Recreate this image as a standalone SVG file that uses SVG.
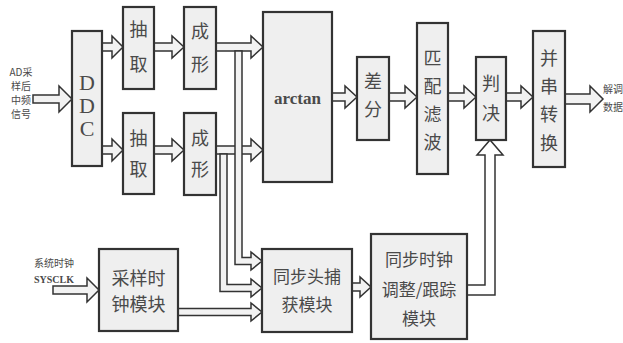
<svg xmlns="http://www.w3.org/2000/svg" width="623" height="343" viewBox="0 0 623 343">
<defs>
<style>
.box{fill:#efefef;stroke:#333;stroke-width:2.2}
.pipe{fill:#f2f2f2;stroke:#333;stroke-width:1.5;stroke-linejoin:miter}
.cn{font-family:"Noto Sans CJK SC","Noto Sans CJK JP",sans-serif;fill:#4a4a4a;text-anchor:middle;dominant-baseline:central}
.big{font-size:18px}
.mid{font-size:17px}
.sm{font-size:10px}
.lat{font-family:"Liberation Serif",serif;fill:#4a4a4a;text-anchor:middle;dominant-baseline:central}
</style>
</defs>
<rect width="623" height="343" fill="#fff"/>
<g id="connectors">
<polygon class="pipe" points="33,95 59,95 59,86 72,99 59,112 59,103 33,103"/>
<polygon class="pipe" points="102,43 112,43 112,36 123,47 112,58 112,51 102,51"/>
<polygon class="pipe" points="102,146 112,146 112,139 123,150 112,161 112,154 102,154"/>
<polygon class="pipe" points="154,43 172,43 172,36 184,47 172,58 172,51 154,51"/>
<polygon class="pipe" points="154,146 172,146 172,139 184,150 172,161 172,154 154,154"/>
<polygon class="pipe" points="216,43 251,43 251,36 263,47 251,58 251,51 216,51"/>
<polygon class="pipe" points="216,146 251,146 251,139 263,150 251,161 251,154 216,154"/>
<polygon class="pipe" points="235,51 242,51 242,257.5 251,257.5 251,252 262,261 251,270 251,264.5 235,264.5"/>
<polygon class="pipe" points="220,154 227,154 227,284.5 251,284.5 251,279 262,288 251,297 251,291.5 220,291.5"/>
<polygon class="pipe" points="178,308.5 251,308.5 251,303 262,312 251,321 251,315.5 178,315.5"/>
<polygon class="pipe" points="332,93 345,93 345,86 357,97 345,108 345,101 332,101"/>
<polygon class="pipe" points="389,93 405,93 405,86 417,97 405,108 405,101 389,101"/>
<polygon class="pipe" points="448,93 464,93 464,86 476,97 464,108 464,101 448,101"/>
<polygon class="pipe" points="506,93 521,93 521,86 533,97 521,108 521,101 506,101"/>
<polygon class="pipe" points="565,94 590,94 590,86 603,99 590,112 590,104 565,104"/>
<polygon class="pipe" points="53,286 87,286 87,278 99,290 87,302 87,294 53,294"/>
<polygon class="pipe" points="352,283 360,283 360,277 371,287 360,297 360,291 352,291"/>
<polygon class="pipe" points="467,285 485,285 485,155 477,155 490,140 503,155 495,155 495,295 467,295" style="fill:#fff"/>
</g>
<g id="n-ddc"><rect class="box" x="72" y="31" width="30" height="135"/>
<text class="lat" x="87" y="82" font-size="22">D</text><text class="lat" x="87" y="105" font-size="22">D</text><text class="lat" x="87" y="128" font-size="22">C</text></g>
<g id="n-chouqu1"><rect class="box" x="123" y="7" width="31" height="82"/>
<text class="cn big" x="138.5" y="28">抽</text><text class="cn big" x="138.5" y="63">取</text></g>
<g id="n-chengxing1"><rect class="box" x="184" y="7" width="32" height="82"/>
<text class="cn big" x="200" y="30">成</text><text class="cn big" x="200" y="63">形</text></g>
<g id="n-chouqu2"><rect class="box" x="123" y="113" width="31" height="81"/>
<text class="cn big" x="138.5" y="137">抽</text><text class="cn big" x="138.5" y="168">取</text></g>
<g id="n-chengxing2"><rect class="box" x="184" y="113" width="32" height="82"/>
<text class="cn big" x="200" y="137">成</text><text class="cn big" x="200" y="168">形</text></g>
<g id="n-arctan"><rect class="box" x="263" y="12" width="69" height="170"/>
<text class="lat" x="297.5" y="98" font-size="17" font-weight="bold">arctan</text></g>
<g id="n-chafen"><rect class="box" x="357" y="57" width="32" height="83"/>
<text class="cn big" x="373" y="80">差</text><text class="cn big" x="373" y="108">分</text></g>
<g id="n-pipei"><rect class="box" x="417" y="23" width="31" height="151"/>
<text class="cn big" x="432.5" y="57">匹</text><text class="cn big" x="432.5" y="85">配</text><text class="cn big" x="432.5" y="113">滤</text><text class="cn big" x="432.5" y="141">波</text></g>
<g id="n-panjue"><rect class="box" x="476" y="57" width="30" height="83"/>
<text class="cn big" x="491" y="82">判</text><text class="cn big" x="491" y="112">决</text></g>
<g id="n-bingchuan"><rect class="box" x="533" y="31" width="32" height="136"/>
<text class="cn big" x="549" y="57">并</text><text class="cn big" x="549" y="85">串</text><text class="cn big" x="549" y="113">转</text><text class="cn big" x="549" y="142">换</text></g>
<g id="n-caiyang"><rect class="box" x="99" y="249" width="79" height="82"/>
<text class="cn big" x="138.5" y="277">采样时</text><text class="cn big" x="138.5" y="303">钟模块</text></g>
<g id="n-tongbutou"><rect class="box" x="262" y="249" width="90" height="83"/>
<text class="cn mid" x="307" y="275">同步头捕</text><text class="cn mid" x="307" y="303">获模块</text></g>
<g id="n-tongbushizhong"><rect class="box" x="371" y="234" width="96" height="105"/>
<text class="cn mid" x="419" y="258">同步时钟</text><text class="cn mid" x="419" y="288">调整/跟踪</text><text class="cn mid" x="419" y="317">模块</text></g>
<g id="labels">
<text class="cn sm" x="21" y="71">AD采</text><text class="cn sm" x="21" y="85">样后</text><text class="cn sm" x="21" y="99">中频</text><text class="cn sm" x="21" y="113">信号</text>
<text class="cn sm" x="54" y="262">系统时钟</text><text class="lat" x="54" y="279" font-size="10" font-weight="bold">SYSCLK</text>
<text class="cn sm" x="613" y="88">解调</text><text class="cn sm" x="613" y="106">数据</text>
</g>
</svg>
